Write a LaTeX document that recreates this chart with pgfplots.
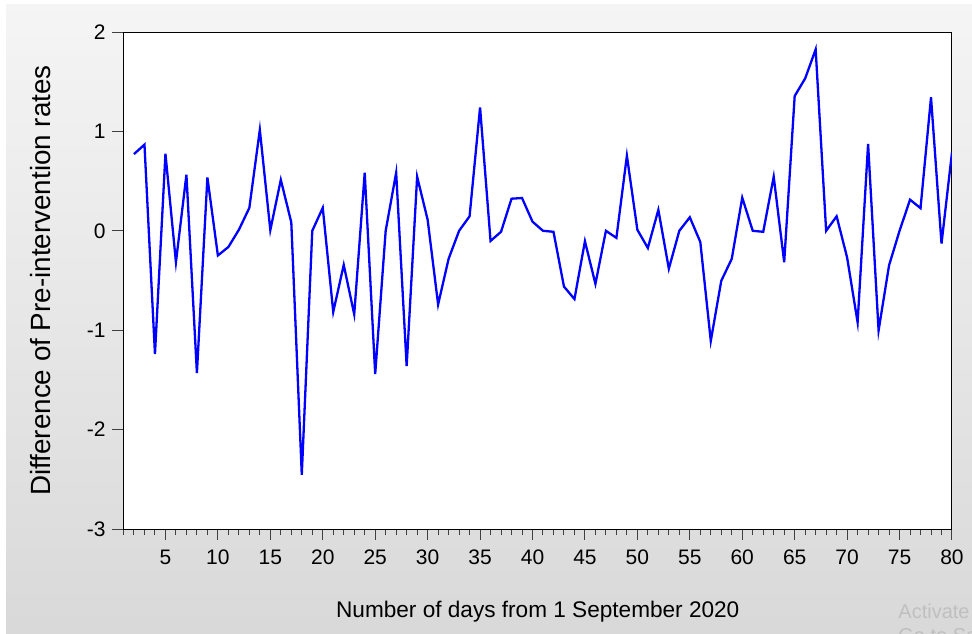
\documentclass[border=0pt]{standalone}
\usepackage{pgfplots}
\pgfplotsset{compat=1.18}
\usepackage{fontspec}
\setmainfont{Liberation Sans}
\begin{document}
\begin{tikzpicture}
\useasboundingbox (0,0) rectangle (486pt,316.5pt);
\fill[white] (0,0) rectangle (486pt,316.5pt);
\shade[top color=black!4, bottom color=black!15] (3pt,0) rectangle (486pt,314pt);
\begin{axis}[
  at={(61.75pt,52pt)}, anchor=south west,
  scale only axis,
  width=414.25pt, height=248.5pt,
  xmin=1, xmax=80, ymin=-3, ymax=2,
  xtick={5,10,...,80},
  minor xtick={1,...,80},
  ytick={-3,-2,-1,0,1,2},
  tick align=outside,
  tick pos=left,
  major tick length=5.5pt,
  minor tick length=3pt,
  every tick/.style={black!75, line width=0.5pt},
  axis line style={black, line width=0.5pt},
  axis background/.style={fill=white},
  /pgf/number format/assume math mode=true,
  ticklabel style={font=\fontsize{10.5pt}{12pt}\selectfont},
  xticklabel style={yshift=-1.5pt},
  xlabel={Number of days from 1 September 2020},
  ylabel={Difference of Pre-intervention rates},
  xlabel style={font=\fontsize{11.3pt}{13pt}\selectfont, at={(axis description cs:0.5,0)}, anchor=center, yshift=-41.5pt},
  ylabel style={font=\fontsize{13.9pt}{16pt}\selectfont, at={(axis description cs:0,0.5)}, anchor=center, yshift=41.3pt},
]
\addplot[blue, line width=1.15pt, mark=none] table {
x y
2 0.772
3 0.867
4 -1.241
5 0.775
6 -0.316
7 0.564
8 -1.431
9 0.537
10 -0.248
11 -0.163
12 0.01
13 0.231
14 1.016
15 0.007
16 0.513
17 0.085
18 -2.454
19 0.0
20 0.231
21 -0.816
22 -0.343
23 -0.840
24 0.585
25 -1.441
26 0.0
27 0.585
28 -1.36
29 0.544
30 0.112
31 -0.741
32 -0.282
33 0.0
34 0.146
35 1.241
36 -0.102
37 -0.010
38 0.323
39 0.330
40 0.092
41 0.0
42 -0.010
43 -0.561
44 -0.687
45 -0.105
46 -0.534
47 0.0
48 -0.071
49 0.755
50 0.010
51 -0.173
52 0.211
53 -0.381
54 0.0
55 0.136
56 -0.112
57 -1.108
58 -0.503
59 -0.282
60 0.333
61 0.0
62 -0.010
63 0.544
64 -0.316
65 1.356
66 1.533
67 1.825
68 0.0
69 0.146
70 -0.269
71 -0.921
72 0.874
73 -1.003
74 -0.347
75 0.0
76 0.313
77 0.228
78 1.343
79 -0.129
80 0.789
};
\end{axis}
\node[anchor=base west, text=black!25, font=\fontsize{10pt}{12pt}\selectfont, inner sep=0pt] at (449pt,7.5pt) {Activate};
\node[anchor=base west, text=black!25, font=\fontsize{10pt}{12pt}\selectfont, inner sep=0pt] at (449pt,-4.5pt) {Go to Settings};
\end{tikzpicture}
\end{document}
